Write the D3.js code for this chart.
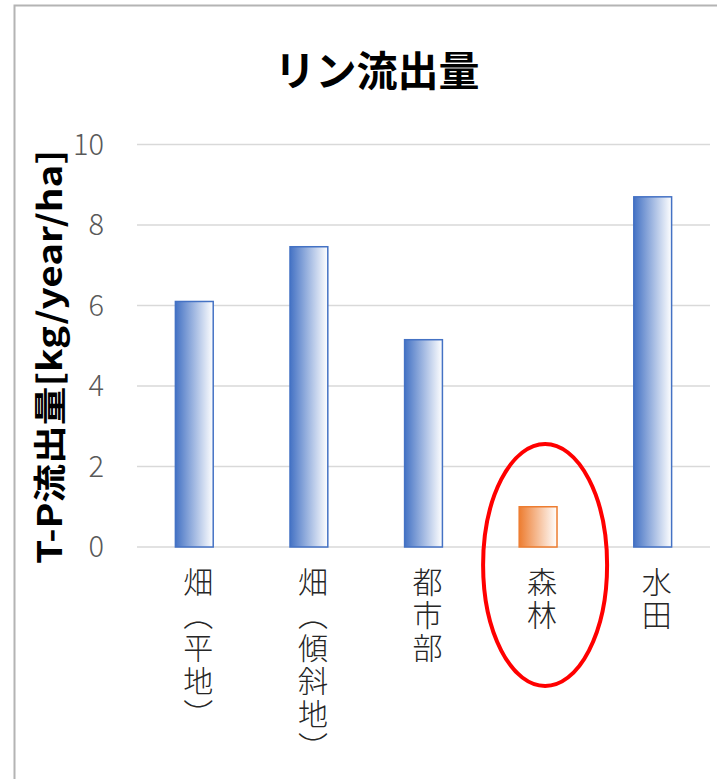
<!DOCTYPE html>
<html>
<head>
<meta charset="utf-8">
<script src="https://cdn.jsdelivr.net/npm/d3@7"></script>
<style>
  html, body { margin: 0; padding: 0; background: #fff; }
  svg { display: block; }
</style>
</head>
<body>
<svg id="chart" width="717" height="779"></svg>
<script>
const categories = ["畑（平地）", "畑（傾斜地）", "都市部", "森林", "水田"];
const values = [6.1, 7.46, 5.15, 1.0, 8.7];
const highlight = ["森林"];
const yTicks = [0, 2, 4, 6, 8, 10];
const titleText = "リン流出量";
const yTitle = "T-P流出量[kg/year/ha]";

const svg = d3.select("#chart");
const font = "'Noto Sans CJK JP', 'Noto Sans', sans-serif";

// frame
svg.append("rect").attr("x", 14.5).attr("y", 5.5).attr("width", 800).attr("height", 800)
  .attr("fill", "#fff").attr("stroke", "#b4b4b4").attr("stroke-width", 2);

const defs = svg.append("defs");
function grad(id, c) {
  const g = defs.append("linearGradient").attr("id", id).attr("x1", "0%").attr("x2", "100%").attr("y1", "0%").attr("y2", "0%");
  g.append("stop").attr("offset", "0%").attr("stop-color", c);
  g.append("stop").attr("offset", "100%").attr("stop-color", "#ffffff");
}
grad("gBlue", "#4472C4");
grad("gOrange", "#ED7D31");

const x = d3.scaleBand().domain(categories).range([137, 710]).paddingInner(0.67).paddingOuter(0.335);
const y = d3.scaleLinear().domain([0, 10]).range([547, 144.5]);

// gridlines
svg.append("g").selectAll("line").data(yTicks).join("line")
  .attr("x1", 137).attr("x2", 710)
  .attr("y1", d => y(d)).attr("y2", d => y(d))
  .attr("stroke", "#d9d9d9").attr("stroke-width", 1.5);

// y tick labels
svg.append("g").selectAll("text").data(yTicks).join("text")
  .attr("x", 104).attr("y", d => y(d)).attr("dy", "0.36em")
  .attr("text-anchor", "end")
  .attr("font-family", font).attr("font-weight", 300).attr("font-size", 29)
  .attr("fill", "#595959").text(d => d);

// bars
svg.append("g").selectAll("rect").data(categories).join("rect")
  .attr("x", d => x(d)).attr("width", x.bandwidth())
  .attr("y", (d, i) => y(values[i])).attr("height", (d, i) => y(0) - y(values[i]))
  .attr("fill", d => highlight.includes(d) ? "url(#gOrange)" : "url(#gBlue)")
  .attr("stroke", d => highlight.includes(d) ? "#ED7D31" : "#4472C4")
  .attr("stroke-width", 1.5);

// category labels (vertical)
svg.append("g").selectAll("text").data(categories).join("text")
  .attr("transform", d => `translate(${x(d) + x.bandwidth() / 2 + 4},567)`)
  .style("writing-mode", "vertical-rl")
  .style("text-orientation", "upright")
  .attr("font-family", font).attr("font-weight", 300).attr("font-size", 30)
  .attr("letter-spacing", 3)
  .attr("fill", "#262626").text(d => d);

// highlight ellipse
const hi = highlight[0];
svg.append("ellipse")
  .attr("cx", x(hi) + x.bandwidth() / 2 + 7).attr("cy", 565)
  .attr("rx", 62).attr("ry", 121)
  .attr("fill", "none").attr("stroke", "#ff0000").attr("stroke-width", 4);

// title
svg.append("text").attr("x", 377).attr("y", 86).attr("text-anchor", "middle")
  .attr("font-family", font).attr("font-weight", 700).attr("font-size", 41)
  .attr("fill", "#000").text(titleText);

// y axis title
svg.append("text").attr("transform", "translate(62,357) rotate(-90)")
  .attr("text-anchor", "middle")
  .attr("font-family", font).attr("font-weight", 700).attr("font-size", 33)
  .attr("textLength", 414).attr("lengthAdjust", "spacingAndGlyphs")
  .attr("fill", "#000").text(yTitle);
</script>
</body>
</html>
